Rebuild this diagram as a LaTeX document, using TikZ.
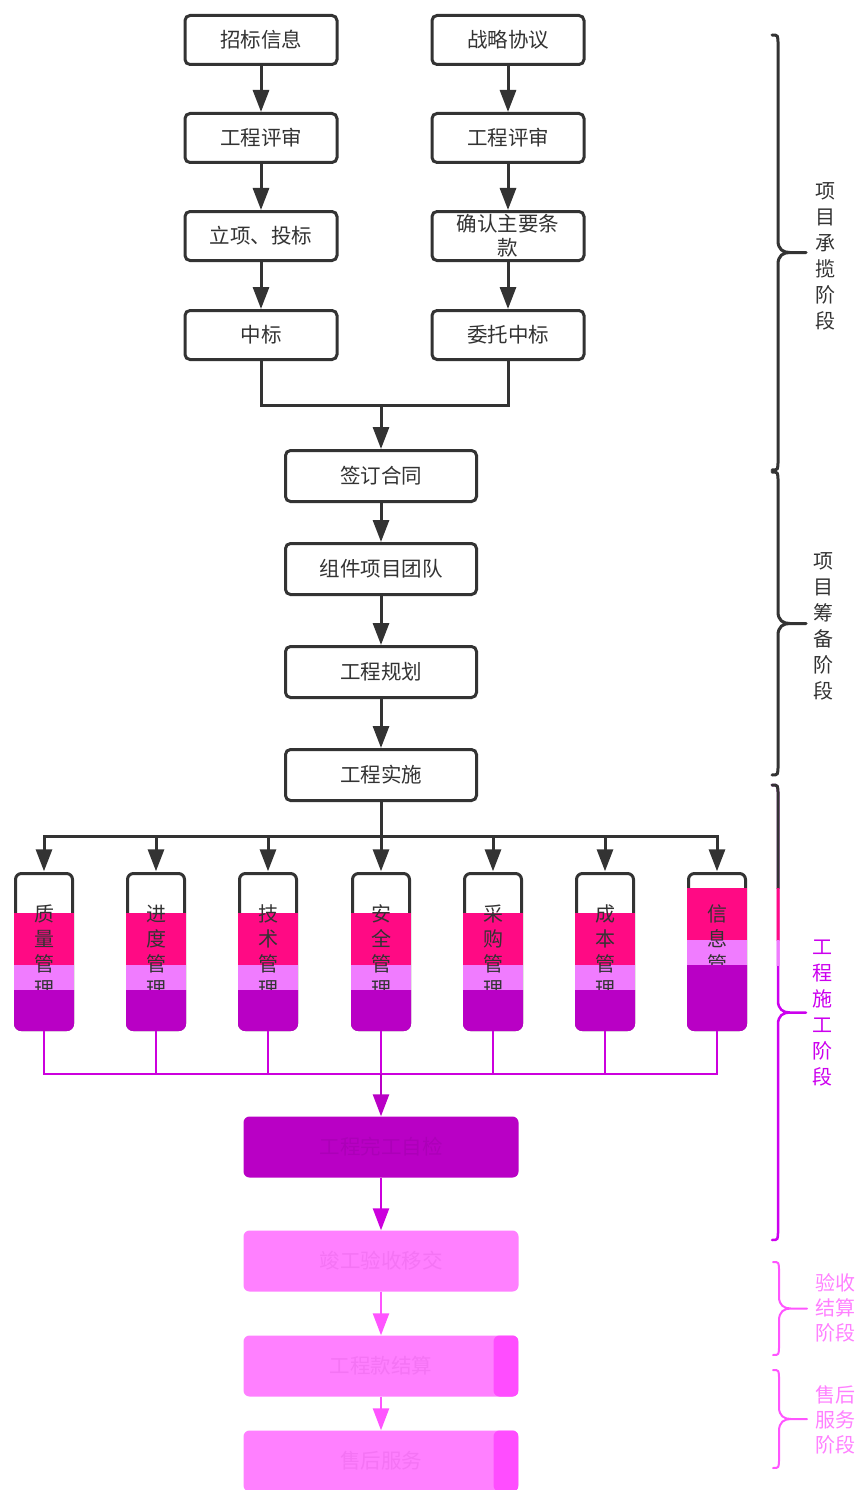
\documentclass[tikz,border=0pt]{standalone}
\usepackage{fontspec}
\setmainfont{Noto Sans CJK SC}
\usetikzlibrary{arrows.meta}

\definecolor{inkgray}{HTML}{333333}
\definecolor{bandpink}{HTML}{FF0A84}
\definecolor{bandviolet}{HTML}{F07CFF}
\definecolor{bandpurple}{HTML}{B900C5}
\definecolor{fadepurple}{HTML}{AC00B8}
\definecolor{maglink}{HTML}{CC00DD}
\definecolor{stagemag}{HTML}{CC00EE}
\definecolor{softpink}{HTML}{FF80FF}
\definecolor{fadepink}{HTML}{F474F4}
\definecolor{strippink}{HTML}{FF4DFF}
\definecolor{linkpink}{HTML}{FF55FF}

\tikzset{
  flow/.style={draw=inkgray, line width=3pt, rounded corners=5pt, fill=white,
    text=inkgray, font=\fontsize{20.5}{24}\selectfont, align=center, inner sep=1pt,
    minimum width=152pt, minimum height=49pt},
  wideflow/.style={flow, minimum width=191pt, minimum height=51pt},
  mgmt/.style={text=inkgray, font=\fontsize{20}{25}\selectfont, align=center, inner sep=0pt,
    minimum width=60pt, minimum height=159pt},
  endbox/.style={rounded corners=6pt, minimum width=275pt, minimum height=61pt,
    font=\fontsize{20.5}{24}\selectfont, fill=softpink, text=fadepink},
  stripbox/.style={endbox,
    path picture={\fill[strippink] ([xshift=-25pt]path picture bounding box.north east) rectangle (path picture bounding box.south east);}},
  link/.style={draw=inkgray, line width=3pt},
  arr/.style={link, -{Triangle[length=22pt,width=16pt]}},
  maglinkline/.style={draw=maglink, line width=2.5pt},
  magarr/.style={line width=2.5pt, -{Triangle[length=22pt,width=16pt]}},
  stage/.style={font=\fontsize{20}{26}\selectfont, align=center, inner sep=0pt},
  stagepair/.style={font=\fontsize{20}{25}\selectfont, align=center, inner sep=0pt}
}

% curly bracket of a stage: colour, x of bar, top, bottom
\newcommand{\stagebrace}[4]{%
  \draw[#1, line cap=round] ({#2-6},#3) .. controls (#2,#3) .. ({#2},{#3+10})
    -- ({#2},{(#3+#4)/2-12}) .. controls ({#2},{(#3+#4)/2-3}) and ({#2+5},{(#3+#4)/2}) .. ({#2+12},{(#3+#4)/2})
    -- ({#2+28},{(#3+#4)/2})
    ({#2+12},{(#3+#4)/2}) .. controls ({#2+5},{(#3+#4)/2}) and ({#2},{(#3+#4)/2+3}) .. ({#2},{(#3+#4)/2+12})
    -- ({#2},{#4-10}) .. controls (#2,#4) .. ({#2-6},#4);}

\begin{document}
\begin{tikzpicture}[x=1pt,y=-1pt]
  \useasboundingbox (0,0) rectangle (859,1490);

  \node[flow] (l1) at (261,40)  {招标信息};
  \node[flow] (l2) at (261,138) {工程评审};
  \node[flow] (l3) at (261,236) {立项、投标};
  \node[flow] (l4) at (261,335) {中标};
  \node[flow] (r1) at (508,40)  {战略协议};
  \node[flow] (r2) at (508,138) {工程评审};
  \node[flow] (r3) at (508,236) {确认主要条\\款};
  \node[flow] (r4) at (508,335) {委托中标};

  \node[wideflow] (c1) at (381,476) {签订合同};
  \node[wideflow] (c2) at (381,569) {组件项目团队};
  \node[wideflow] (c3) at (381,672) {工程规划};
  \node[wideflow] (c4) at (381,775) {工程实施};

  \foreach \from/\to in {l1/l2,l2/l3,l3/l4,r1/r2,r2/r3,r3/r4,c1/c2,c2/c3,c3/c4}
    \draw[arr] (\from) -- (\to);

  \coordinate (j1) at (381,405);
  \draw[link] (l4.south) |- (j1);
  \draw[link] (r4.south) |- (j1);
  \draw[arr] (j1) -- (c1.north);

  % management columns, coloured bands
  \foreach \x/\a/\b in {44/913/965,156/913/965,268/913/965,381/913/965,493/913/965,605/913/965,717/888/940} {
    \draw[link, fill=white, rounded corners=6pt] (\x-28.5,873.5) rectangle (\x+28.5,1029.5);
    \fill[bandpink] (\x-30,\a) rectangle (\x+30,\b);
    \fill[bandviolet] (\x-30,\b) rectangle (\x+30,\b+25);
  }
  \node[mgmt] (m1) at (44,951)  {质\\量\\管\\理};
  \node[mgmt] (m2) at (156,951) {进\\度\\管\\理};
  \node[mgmt] (m3) at (268,951) {技\\术\\管\\理};
  \node[mgmt] (m4) at (381,951) {安\\全\\管\\理};
  \node[mgmt] (m5) at (493,951) {采\\购\\管\\理};
  \node[mgmt] (m6) at (605,951) {成\\本\\管\\理};
  \node[mgmt] (m7) at (717,951) {信\\息\\管\\理};
  \foreach \x/\c in {44/990,156/990,268/990,381/990,493/990,605/990,717/965}
    \fill[bandpurple] (\x-30,\c) [rounded corners=7pt] -- (\x-30,1031) -- (\x+30,1031) [sharp corners] -- (\x+30,\c) -- cycle;

  \coordinate (f1) at (381,836);
  \draw[link] (c4.south) -- (f1);
  \foreach \i in {1,...,7}
    \draw[arr] (f1) -| (m\i.north);

  \node[endbox, fill=bandpurple, text=fadepurple] (e1) at (381,1147) {工程完工自检};
  \node[endbox] (e2) at (381,1261) {竣工验收移交};
  \node[stripbox] (e3) at (381,1366) {工程款结算};
  \node[stripbox] (e4) at (381,1461) {售后服务};

  \coordinate (g1) at (381,1074);
  \foreach \i in {1,...,7}
    \draw[maglinkline] (m\i.south) |- (g1);
  \draw[magarr, draw=bandpurple, fill=bandpurple] (g1) -- (e1.north);
  \draw[magarr, draw=maglink, fill=maglink] (e1) -- (e2);
  \draw[magarr, draw=linkpink, fill=linkpink] (e2) -- (e3);
  \draw[magarr, draw=linkpink, fill=linkpink] (e3) -- (e4);

  % stages
  \stagebrace{inkgray, line width=3pt}{778}{35}{470}
  \stagebrace{inkgray, line width=3pt}{778}{472}{775}
  \stagebrace{stagemag, line width=2.5pt}{778}{785}{1240}
  \begin{scope}
    \clip (760,780) rectangle (790,888);
    \stagebrace{inkgray, line width=3pt}{778}{785}{1240}
  \end{scope}
  \begin{scope}
    \clip (760,888) rectangle (790,940);
    \stagebrace{bandpink, line width=3pt}{778}{785}{1240}
  \end{scope}
  \begin{scope}
    \clip (760,940) rectangle (790,965);
    \stagebrace{bandviolet, line width=3pt}{778}{785}{1240}
  \end{scope}
  \stagebrace{linkpink, line width=2pt}{779}{1262}{1355}
  \stagebrace{linkpink, line width=2pt}{779}{1370}{1468}

  \node[stage, text=inkgray] (p1) at (825,256)  {项\\目\\承\\揽\\阶\\段};
  \node[stage, text=inkgray] (p2) at (823,626)  {项\\目\\筹\\备\\阶\\段};
  \node[stage, text=stagemag] (p3) at (822,1013) {工\\程\\施\\工\\阶\\段};
  \node[stagepair, text=softpink] (p4) at (835,1308) {验收\\结算\\阶段};
  \node[stagepair, text=softpink] (p5) at (835,1420) {售后\\服务\\阶段};

\end{tikzpicture}
\end{document}
